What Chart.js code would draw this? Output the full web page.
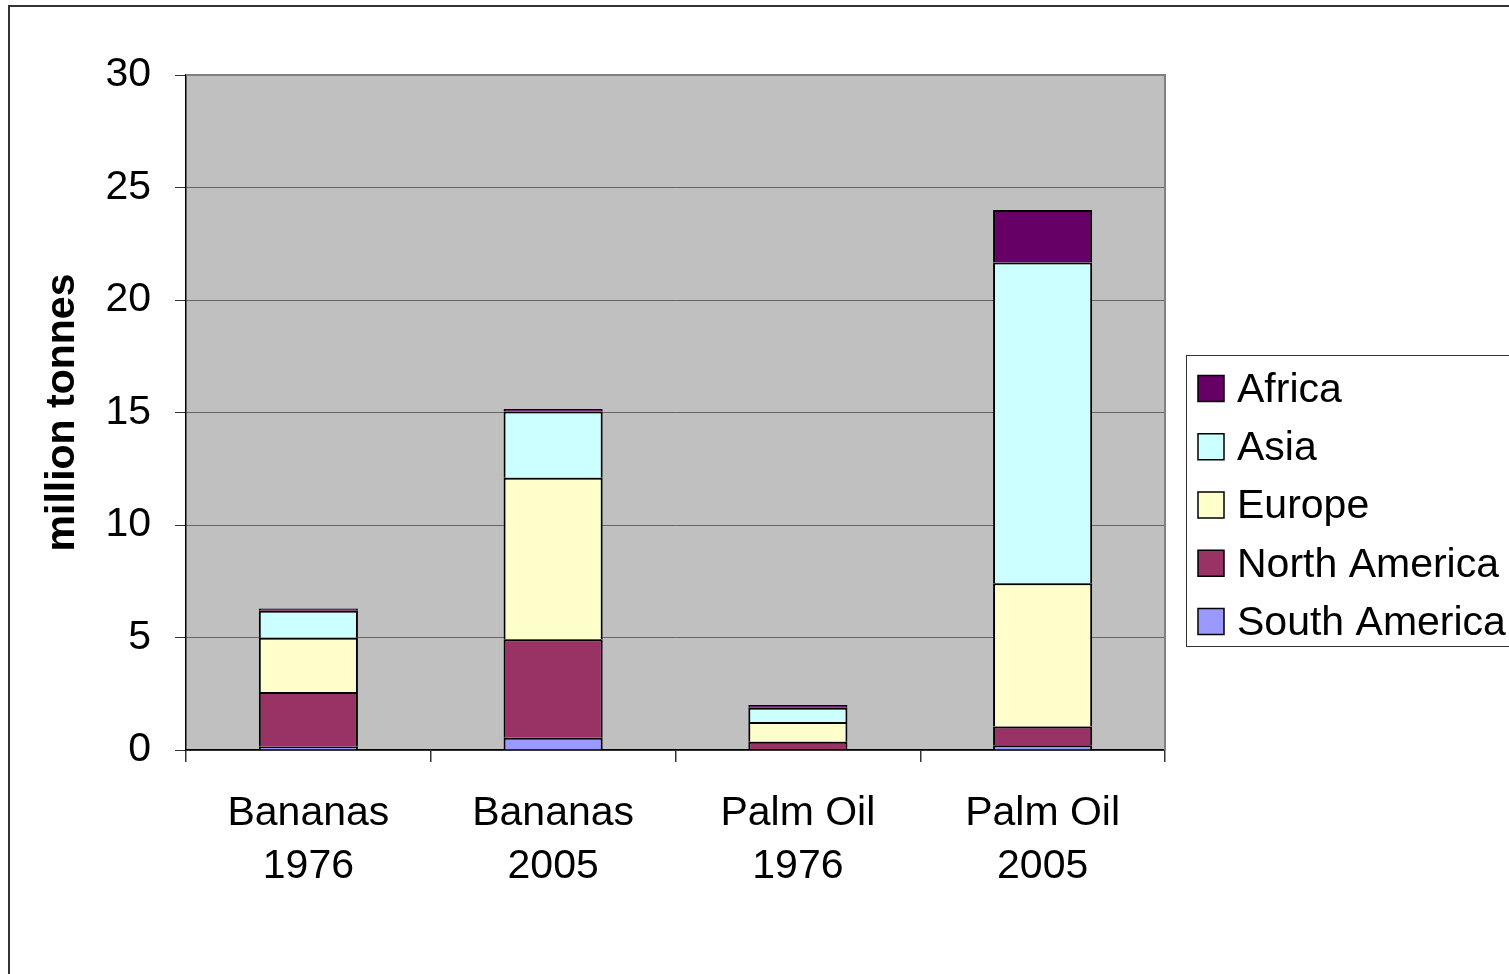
<!DOCTYPE html>
<html>
<head>
<meta charset="utf-8">
<style>
  html, body { margin: 0; padding: 0; background: #fff; overflow: hidden; }
  canvas { display: block; }
</style>
<script src="https://cdn.jsdelivr.net/npm/chart.js@4.4.1/dist/chart.umd.min.js"></script>
</head>
<body>
<canvas id="c" width="1509" height="974"></canvas>
<script>
const categories = [['Bananas', '1976'], ['Bananas', '2005'], ['Palm Oil', '1976'], ['Palm Oil', '2005']];
const southAmerica = [0.15, 0.55, 0.03, 0.21];
const northAmerica = [2.43, 4.37, 0.34, 0.83];
const europe = [2.41, 7.18, 0.87, 6.37];
const asia = [1.20, 2.94, 0.64, 14.26];
const africa = [0.10, 0.12, 0.12, 2.33];
const yTicks = [0, 5, 10, 15, 20, 25, 30];
const yTitle = 'million tonnes';

const FONT = "'Liberation Sans', Arial, 'DejaVu Sans', sans-serif";
const FS = 41;

const W = 1509, H = 974;
const PLOT = { left: 186, right: 1165, top: 75, bottom: 750 };
const PAD = { left: 10, right: W - PLOT.right, top: PLOT.top, bottom: 10 };

const decor = {
  id: 'decor',
  beforeDraw(chart) {
    const { ctx, chartArea: a } = chart;
    ctx.save();
    ctx.fillStyle = '#fff';
    ctx.fillRect(0, 0, chart.width, chart.height);
    ctx.fillStyle = '#C0C0C0';
    ctx.fillRect(a.left, a.top, a.right - a.left, a.bottom - a.top);
    ctx.restore();
  },
  beforeDatasetsDraw(chart) {
    const { ctx, chartArea: a } = chart;
    ctx.save();
    ctx.strokeStyle = '#808080';
    ctx.lineWidth = 2;
    ctx.beginPath();
    ctx.moveTo(a.left, a.top);
    ctx.lineTo(a.right, a.top);
    ctx.lineTo(a.right, a.bottom);
    ctx.stroke();
    ctx.restore();
  },
  afterDraw(chart) {
    const { ctx } = chart;
    ctx.save();
    ctx.strokeStyle = '#333';
    ctx.lineWidth = 2;
    ctx.strokeRect(9, 6, 2000, 2000);
    const lx = 1186, ly = 355, lh = 291;
    ctx.lineWidth = 1;
    ctx.strokeStyle = '#333';
    ctx.strokeRect(lx + 0.5, ly + 0.5, 400, lh);
    const ds = chart.data.datasets.slice().reverse();
    ctx.font = FS + 'px ' + FONT;
    ctx.textBaseline = 'middle';
    ctx.textAlign = 'left';
    ds.forEach((d, i) => {
      const cy = 388.5 + i * 58.25;
      ctx.fillStyle = d.backgroundColor;
      ctx.fillRect(1198, cy - 13, 26, 26);
      ctx.strokeStyle = '#000';
      ctx.lineWidth = 1.5;
      ctx.strokeRect(1198, cy - 13, 26, 26);
      ctx.fillStyle = '#000';
      ctx.fillText(d.label, 1237, cy + 2);
    });
    ctx.restore();
  }
};

const common = { borderColor: '#000', borderWidth: 2, borderSkipped: 'start', barPercentage: 0.405, categoryPercentage: 1 };

new Chart(document.getElementById('c'), {
  type: 'bar',
  data: {
    labels: categories,
    datasets: [
      Object.assign({ label: 'South America', data: southAmerica, backgroundColor: '#9999FF' }, common),
      Object.assign({ label: 'North America', data: northAmerica, backgroundColor: '#993366' }, common),
      Object.assign({ label: 'Europe', data: europe, backgroundColor: '#FFFFCC' }, common),
      Object.assign({ label: 'Asia', data: asia, backgroundColor: '#CCFFFF' }, common),
      Object.assign({ label: 'Africa', data: africa, backgroundColor: '#660066' }, common)
    ]
  },
  options: {
    responsive: false,
    animation: false,
    devicePixelRatio: 1,
    layout: { padding: PAD },
    plugins: { legend: { display: false }, tooltip: { enabled: false } },
    scales: {
      x: {
        stacked: true,
        grid: { display: true, drawOnChartArea: false, drawTicks: true, tickLength: 12, tickColor: '#333', offset: true, lineWidth: 1.5 },
        border: { display: true, color: '#000', width: 1.5 },
        ticks: { color: '#000', font: { family: FONT, size: FS, lineHeight: 1.29 }, padding: 25, maxRotation: 0, autoSkip: false },
        afterFit(scale) { scale.height = H - PLOT.bottom - PAD.bottom; }
      },
      y: {
        stacked: true,
        min: 0,
        max: 30,
        afterBuildTicks(scale) { scale.ticks = yTicks.map(v => ({ value: v })); },
        grid: { color: '#666', lineWidth: 1, drawTicks: true, tickLength: 11, tickColor: '#333' },
        border: { display: true, color: '#000', width: 1.5 },
        ticks: { color: '#000', font: { family: FONT, size: FS }, padding: 24 },
        title: { display: true, text: yTitle, color: '#000', font: { family: FONT, size: FS, weight: 'bold', lineHeight: 1.2 }, padding: { top: 28, bottom: 0 } },
        afterFit(scale) { scale.width = PLOT.left - PAD.left; }
      }
    }
  },
  plugins: [decor]
});
</script>
</body>
</html>
